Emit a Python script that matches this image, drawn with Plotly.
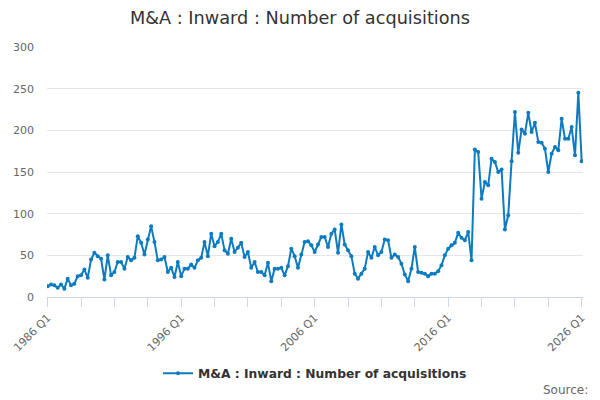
import plotly.graph_objects as go

# quarterly counts, 1986 Q1 .. 2026 Q1
start_year = 1986
acquisitions = [
    13, 15, 14, 11, 15, 10, 22, 14, 16, 25,
    26, 33, 23, 45, 53, 49, 46, 21, 50, 26,
    30, 42, 42, 34, 48, 44, 47, 73, 65, 51,
    69, 85, 66, 44, 45, 48, 30, 35, 24, 42,
    25, 34, 34, 39, 35, 44, 47, 66, 49, 76,
    61, 66, 76, 56, 52, 70, 54, 59, 65, 48,
    54, 35, 42, 30, 30, 26, 41, 19, 34, 34,
    35, 26, 37, 58, 49, 35, 51, 66, 67, 62,
    54, 63, 72, 72, 60, 76, 81, 53, 87, 63,
    56, 49, 28, 22, 28, 34, 54, 47, 60, 50,
    54, 69, 68, 47, 51, 48, 40, 27, 19, 34,
    60, 30, 29, 28, 25, 28, 28, 31, 38, 50,
    58, 62, 65, 77, 71, 68, 78, 44, 177, 174,
    118, 138, 134, 166, 162, 150, 153, 81, 98, 163,
    222, 173, 201, 196, 221, 198, 209, 186, 185, 178,
    150, 172, 180, 176, 214, 190, 190, 204, 170, 245,
    163,
]
quarters = [f"{start_year + i // 4} Q{i % 4 + 1}" for i in range(len(acquisitions))]

tick_every = 10
label_every = 40
tick_vals = quarters[::tick_every]
tick_text = [q if i % label_every == 0 else "" for i, q in enumerate(quarters)][::tick_every]

series_name = "M&A : Inward : Number of acquisitions"
line_color = "#0c7bc0"
font_family = "DejaVu Sans, Verdana, sans-serif"

fig = go.Figure()
fig.add_trace(
    go.Scatter(
        x=quarters,
        y=acquisitions,
        name=series_name,
        mode="lines+markers",
        line=dict(color=line_color, width=2),
        marker=dict(color=line_color, size=4),
        showlegend=True,
    )
)

fig.update_layout(
    width=600,
    height=400,
    paper_bgcolor="white",
    plot_bgcolor="white",
    font=dict(family=font_family, color="#666666", size=11),
    title=dict(
        text="M&A : Inward : Number of acquisitions",
        x=0.5,
        xref="container",
        xanchor="center",
        y=0.955,
        yanchor="middle",
        font=dict(size=17.7, color="#333333"),
    ),
    margin=dict(l=47, r=17, t=47, b=103),
    legend=dict(
        orientation="h",
        x=0.5,
        xanchor="center",
        y=-0.305,
        yanchor="middle",
        font=dict(size=12.3, color="#333333", weight="bold"),
    ),
    annotations=[
        dict(
            text="Source:",
            xref="paper",
            yref="paper",
            x=1.013,
            y=-0.372,
            xanchor="right",
            yanchor="middle",
            showarrow=False,
            font=dict(size=12, color="#666666"),
        )
    ],
)

fig.update_xaxes(
    type="category",
    range=[-0.2, len(acquisitions) - 0.6],
    tickmode="array",
    tickvals=tick_vals,
    ticktext=tick_text,
    tickangle=-45,
    ticks="outside",
    ticklen=9,
    tickcolor="#ccd6eb",
    showline=True,
    linecolor="#ccd6eb",
    linewidth=1,
    showgrid=False,
    tickfont=dict(size=11, color="#666666"),
)
fig.update_yaxes(
    range=[0, 300],
    tickvals=[0, 50, 100, 150, 200, 250, 300],
    showgrid=True,
    gridcolor="#e6e6e6",
    zeroline=False,
    showline=False,
    ticklabelstandoff=12,
    tickfont=dict(size=11, color="#666666"),
)

# drop the page's default body margin so the 600x400 figure sits at the window origin
fig.write_html(
    "out.html",
    config={"displayModeBar": False},
    post_script="document.body.style.margin = '0px';",
)
